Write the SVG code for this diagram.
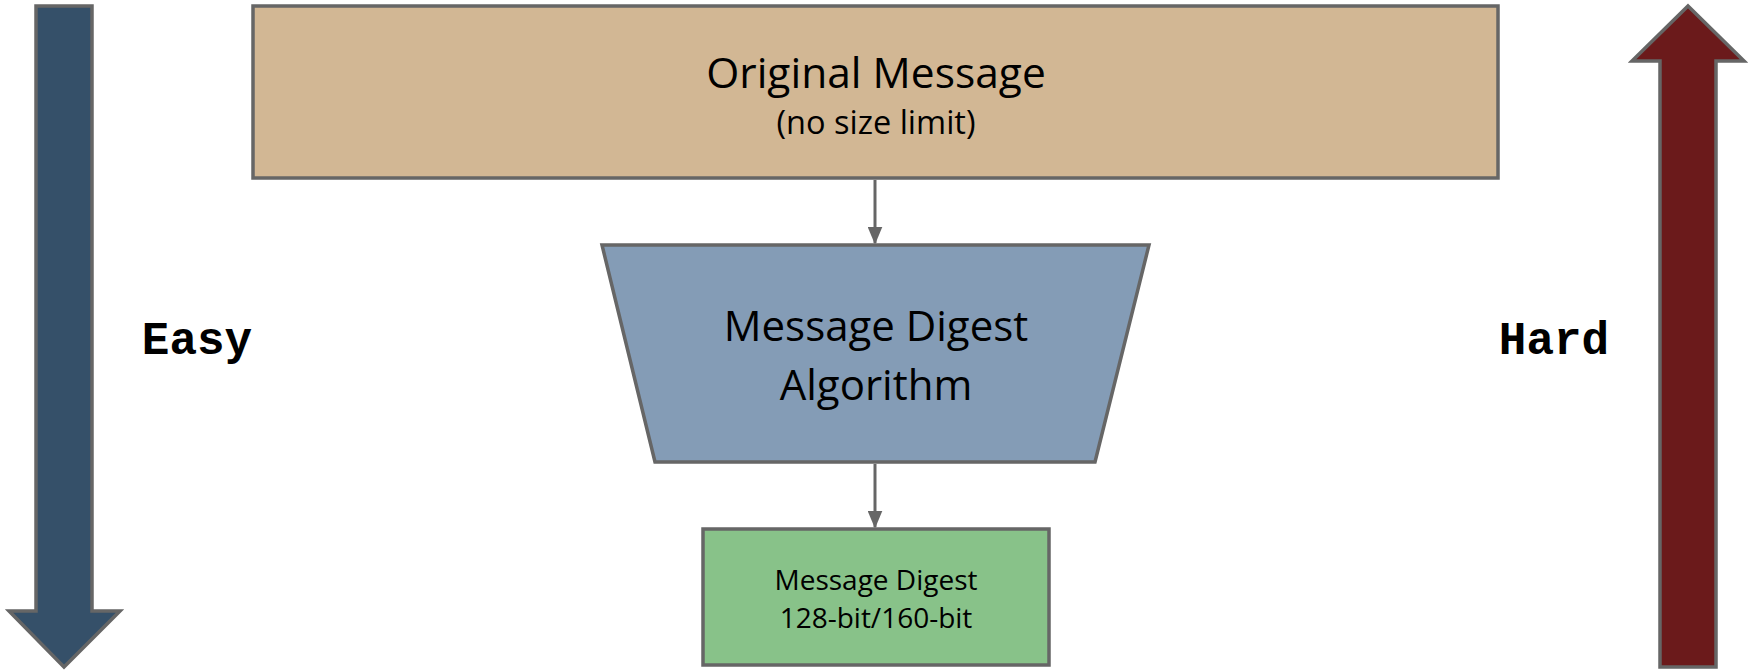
<svg xmlns="http://www.w3.org/2000/svg" width="1753" height="670" viewBox="0 0 1753 670">
<style>
.sh{stroke:#666666;stroke-width:3.5;stroke-linejoin:miter}
.t{font-family:"Open Sans","Noto Sans",sans-serif;fill:#000;text-anchor:middle}
.tw{font-family:"Liberation Mono","Courier New",monospace;font-weight:bold;fill:#000;text-anchor:middle}
.cn{stroke:#666666;stroke-width:3;fill:none}
</style>
<defs>
<marker id="ah" markerWidth="6" markerHeight="5" refX="5.5" refY="2.5" orient="auto" markerUnits="strokeWidth">
<path d="M0,0 L6,2.5 L0,5 Z" fill="#666666"/>
</marker>
</defs>
<rect width="1753" height="670" fill="#ffffff"/>
<g id="easy-arrow">
<path class="sh" fill="#355069" d="M36,6 L92,6 L92,611 L120,611 L64,667 L9,611 L36,611 Z"/>
</g>
<g id="hard-arrow">
<path class="sh" fill="#6b1a1b" d="M1688,6 L1744,61 L1716,61 L1716,667 L1660,667 L1660,61 L1632,61 Z"/>
</g>
<g id="easy-label"><text class="tw" x="197" y="354" font-size="46">Easy</text></g>
<g id="hard-label"><text class="tw" x="1554" y="354" font-size="46">Hard</text></g>
<g id="original-message">
<rect class="sh" fill="#d2b794" x="253" y="6" width="1245" height="172"/>
<text class="t" x="876" y="88" font-size="42.5">Original Message</text>
<text class="t" x="876" y="134" font-size="32.5">(no size limit)</text>
</g>
<g id="algorithm">
<path class="sh" fill="#849cb6" d="M602,245 L1149,245 L1095,462 L655,462 Z"/>
<text class="t" x="876" y="341" font-size="42">Message Digest</text>
<text class="t" x="876" y="400" font-size="42">Algorithm</text>
</g>
<g id="digest">
<rect class="sh" fill="#88c289" x="703" y="529" width="346" height="136"/>
<text class="t" x="876" y="590" font-size="28">Message Digest</text>
<text class="t" x="876" y="628" font-size="28">128-bit/160-bit</text>
</g>
<g id="connectors">
<line class="cn" x1="875" y1="180" x2="875" y2="243" marker-end="url(#ah)"/>
<line class="cn" x1="875" y1="464" x2="875" y2="527" marker-end="url(#ah)"/>
</g>
</svg>
